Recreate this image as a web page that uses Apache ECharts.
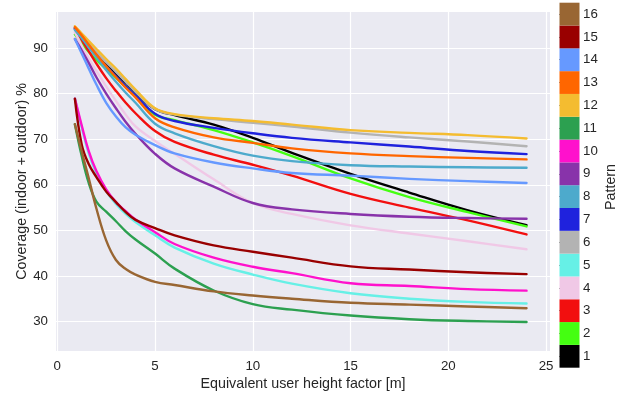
<!DOCTYPE html>
<html>
<head>
<meta charset="utf-8">
<script src="https://cdn.jsdelivr.net/npm/echarts@6/dist/echarts.min.js"></script>
<style>
html,body{margin:0;padding:0;background:#fff;}
#chart{width:636px;height:396px;}
</style>
</head>
<body>
<div id="chart"></div>
<script>
// Data
const xValues = [0.9, 1.25, 1.6, 2, 2.5, 3, 3.5, 4, 5, 6, 8, 10, 12, 15, 18, 21, 24];
const patternNames = ['1','2','3','4','5','6','7','8','9','10','11','12','13','14','15','16'];
const patternColors = ['#000000','#44ff11','#f20f0f','#f0c8e6','#66f0e6','#b3b3b3','#1f22dd','#4daacc',
                       '#8833aa','#ff11cc','#2ca050','#f4bc30','#ff6600','#6699ff','#990000','#996633'];
const pattern1  = [94.4, 92.6, 90.8, 88.8, 86.6, 84.4, 82.3, 80.2, 76.6, 75.3, 73.2, 70.3, 67.0, 62.4, 58.3, 54.4, 51.16];
const pattern2  = [93.0, 91.0, 89.2, 87.4, 85.4, 83.5, 81.5, 79.6, 75.4, 74.2, 72.0, 69.3, 66.3, 61.4, 57.3, 54.0, 50.86];
const pattern3  = [94.2, 91.8, 89.4, 86.6, 83.4, 80.6, 78.0, 75.7, 71.8, 69.4, 66.6, 64.4, 62.0, 58.0, 55.0, 52.2, 49.1];
const pattern4  = [93.5, 90.5, 87.8, 85.0, 81.6, 78.4, 75.4, 72.8, 69.6, 66.8, 61.2, 56.0, 53.6, 51.1, 49.3, 47.6, 45.84];
const pattern5  = [78.9, 72.6, 67.0, 62.5, 58.6, 55.8, 53.6, 51.8, 48.9, 46.2, 42.7, 40.3, 38.3, 36.2, 35.0, 34.3, 33.93];
const pattern6  = [94.4, 92.8, 91.0, 89.1, 86.9, 84.8, 82.6, 80.4, 76.6, 75.4, 74.4, 73.6, 72.8, 71.45, 70.4, 69.5, 68.47];
const pattern7  = [94.2, 92.3, 90.4, 88.4, 86.0, 83.8, 81.6, 79.6, 75.6, 74.0, 72.5, 71.3, 70.3, 69.3, 68.4, 67.4, 66.72];
const pattern8  = [94.0, 92.2, 90.2, 88.0, 85.2, 82.6, 80.2, 78.0, 73.4, 71.3, 68.5, 66.4, 65.2, 64.3, 64.0, 63.85, 63.73];
const pattern9  = [92.0, 89.5, 86.8, 83.6, 80.0, 76.8, 73.8, 71.2, 66.8, 63.6, 59.6, 56.0, 54.6, 53.6, 53.0, 52.7, 52.54];
const pattern10 = [78.9, 73.0, 67.5, 63.0, 59.0, 56.2, 54.2, 52.4, 49.6, 47.0, 44.0, 42.0, 40.6, 38.4, 37.8, 37.1, 36.76];
const pattern11 = [73.3, 66.3, 60.5, 56.3, 54.1, 52.0, 49.8, 48.0, 44.9, 41.6, 36.8, 33.8, 32.6, 31.3, 30.5, 30.1, 29.9];
const pattern12 = [94.8, 93.2, 91.6, 89.8, 87.6, 85.5, 83.2, 80.9, 76.8, 75.5, 74.6, 74.0, 73.2, 72.0, 71.4, 70.9, 70.15];
const pattern13 = [94.6, 92.8, 90.8, 88.6, 86.0, 83.6, 81.3, 79.2, 74.6, 72.6, 70.4, 69.2, 68.0, 66.9, 66.3, 65.9, 65.57];
const pattern14 = [92.0, 88.8, 85.6, 82.0, 78.0, 75.0, 72.6, 71.0, 68.7, 66.9, 64.9, 63.6, 62.6, 62.0, 61.3, 60.8, 60.4];
const pattern15 = [78.9, 68.8, 64.6, 61.7, 58.5, 56.2, 54.0, 52.3, 50.5, 48.9, 46.7, 45.3, 44.0, 42.1, 41.4, 40.8, 40.39];
const pattern16 = [73.3, 67.3, 61.6, 54.8, 47.8, 43.5, 41.5, 40.3, 38.7, 38.0, 36.6, 35.7, 35.0, 34.1, 33.7, 33.3, 32.9];
const allPatterns = [pattern1, pattern2, pattern3, pattern4, pattern5, pattern6, pattern7, pattern8,
                     pattern9, pattern10, pattern11, pattern12, pattern13, pattern14, pattern15, pattern16];
const xTickValues = [0, 5, 10, 15, 20, 25];
const yTickValues = [30, 40, 50, 60, 70, 80, 90];

const FONT = '"Liberation Sans", Arial, sans-serif';
const TXT = '#262626';

const lineSeries = allPatterns.map((vals, i) => ({
  name: patternNames[i],
  type: 'line',
  xAxisIndex: 0, yAxisIndex: 0,
  data: vals.map((v, j) => [xValues[j], v]),
  showSymbol: false,
  smooth: 0.4,
  lineStyle: { color: patternColors[i], width: 2.4, cap: 'round', join: 'round' },
  itemStyle: { color: patternColors[i] },
  z: 2 + i * 0.01
}));

const colorbarSeries = {
  type: 'bar',
  xAxisIndex: 1, yAxisIndex: 1,
  data: patternNames.map((n, i) => ({ value: 1, itemStyle: { color: patternColors[i] } })),
  barWidth: '100%',
  barCategoryGap: 0,
  silent: true
};

const chart = echarts.init(document.getElementById('chart'), null, { renderer: 'canvas' });
chart.setOption({
  animation: false,
  backgroundColor: '#ffffff',
  textStyle: { fontFamily: FONT },
  grid: [
    { left: 56, top: 12, width: 494, height: 341, show: true, backgroundColor: '#eaeaf2', borderWidth: 0, containLabel: false },
    { left: 559.5, top: 2.7, width: 20, height: 365, containLabel: false }
  ],
  xAxis: [
    {
      type: 'value', gridIndex: 0, min: -0.066, max: 25.2,
      name: 'Equivalent user height factor [m]', nameLocation: 'middle', nameGap: 26, nameMoveOverlap: false,
      nameTextStyle: { fontSize: 14.3, color: TXT, fontFamily: FONT },
      axisLine: { show: false }, axisTick: { show: false, customValues: xTickValues },
      axisLabel: { customValues: xTickValues, fontSize: 13.3, color: TXT, margin: 9, fontFamily: FONT },
      splitLine: { show: true, lineStyle: { color: '#ffffff', width: 1.2 } }
    },
    { type: 'value', gridIndex: 1, min: 0, max: 1, show: false }
  ],
  yAxis: [
    {
      type: 'value', gridIndex: 0, min: 23.52, max: 97.92,
      name: 'Coverage (indoor + outdoor) %', nameLocation: 'middle', nameGap: 27, nameRotate: 90, nameMoveOverlap: false,
      nameTextStyle: { fontSize: 14.3, color: TXT, fontFamily: FONT },
      axisLine: { show: false }, axisTick: { show: false, customValues: yTickValues },
      axisLabel: { customValues: yTickValues, fontSize: 13.3, color: TXT, margin: 8, fontFamily: FONT },
      splitLine: { show: true, lineStyle: { color: '#ffffff', width: 1.2 } }
    },
    {
      type: 'category', gridIndex: 1, position: 'right', data: patternNames,
      axisLine: { show: false },
      axisTick: { show: true, alignWithLabel: true, length: 3.5, lineStyle: { color: TXT, width: 1 } },
      axisLabel: { fontSize: 13.3, color: TXT, margin: 3.5, fontFamily: FONT },
      splitLine: { show: false }
    }
  ],
  graphic: [
    { type: 'text', x: 611, y: 187, rotation: Math.PI / 2,
      style: { text: 'Pattern', fontSize: 14.3, fill: TXT, fontFamily: FONT, align: 'center', verticalAlign: 'middle' } }
  ],
  series: lineSeries.concat([colorbarSeries])
});
</script>
</body>
</html>
